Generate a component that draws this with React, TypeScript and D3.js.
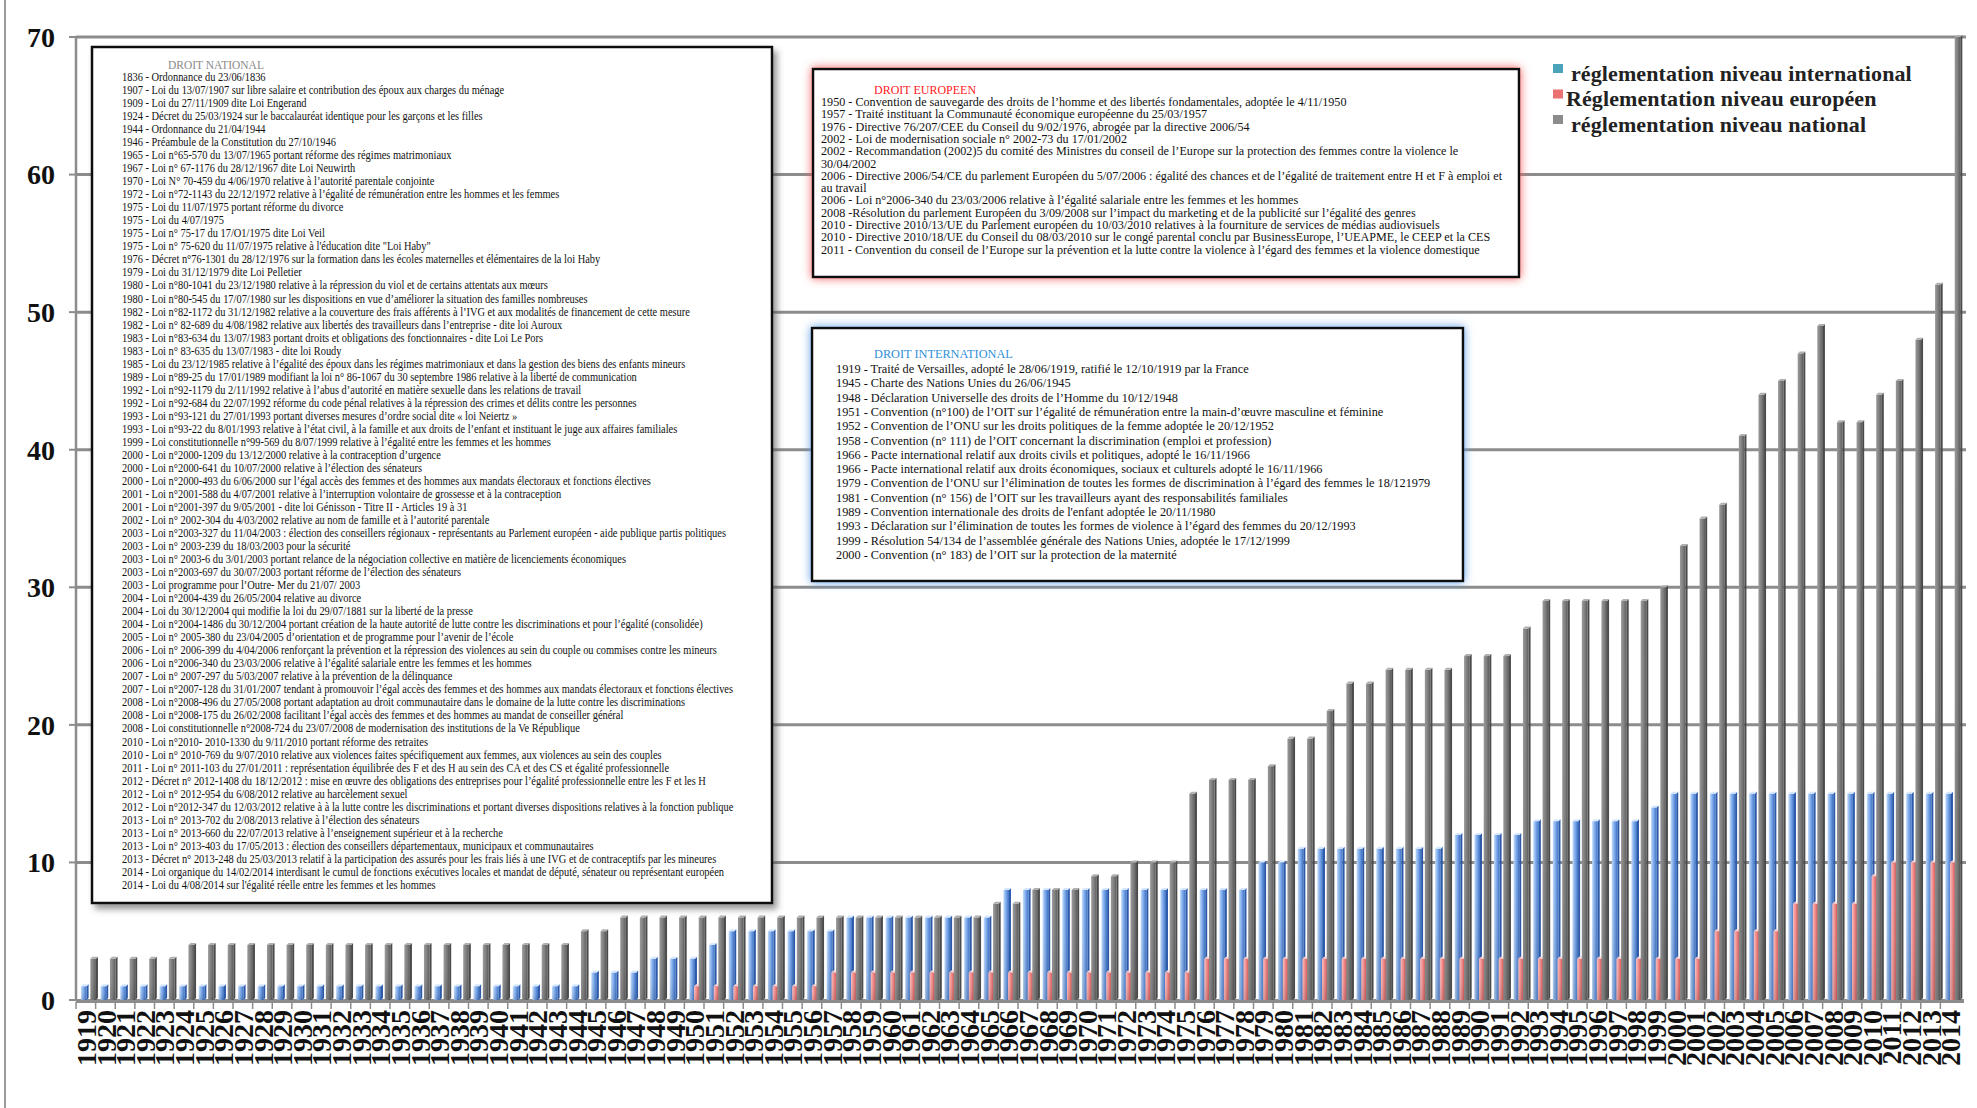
import { useEffect, useRef } from "react";
import * as d3 from "d3";

// categories
const years = d3.range(1919, 2015).map(String);
const seriesKeys = ["international", "europeen", "national"];
const seriesLabels = [
  "réglementation niveau international",
  "Réglementation niveau européen",
  "réglementation niveau national",
];
const yTicks = [0, 10, 20, 30, 40, 50, 60, 70];

// cumulative counts per year, 1919 -> 2014
const international = [
  1, 1, 1, 1, 1, 1, 1, 1, 1, 1, 1, 1, 1, 1, 1, 1, 1, 1, 1, 1, 1, 1, 1, 1, 1, 1, // 1919-1944
  2, 2, 2, 3, 3, 3, 4, 5, 5, 5, 5, 5, 5, // 1945-1957
  6, 6, 6, 6, 6, 6, 6, 6, // 1958-1965
  8, 8, 8, 8, 8, 8, 8, 8, 8, 8, 8, 8, 8, // 1966-1978
  10, 10, 11, 11, 11, 11, 11, 11, 11, 11, // 1979-1988
  12, 12, 12, 12, 13, 13, 13, 13, 13, 13, 14, // 1989-1999
  15, 15, 15, 15, 15, 15, 15, 15, 15, 15, 15, 15, 15, 15, 15, // 2000-2014
];
const europeen = [
  0, 0, 0, 0, 0, 0, 0, 0, 0, 0, 0, 0, 0, 0, 0, 0, 0, 0, 0, 0, 0, 0, 0, 0, 0, 0, 0, 0, 0, 0, 0, // 1919-1949
  1, 1, 1, 1, 1, 1, 1, // 1950-1956
  2, 2, 2, 2, 2, 2, 2, 2, 2, 2, 2, 2, 2, 2, 2, 2, 2, 2, 2, // 1957-1975
  3, 3, 3, 3, 3, 3, 3, 3, 3, 3, 3, 3, 3, 3, 3, 3, 3, 3, 3, 3, 3, 3, 3, 3, 3, 3, // 1976-2001
  5, 5, 5, 5, 7, 7, 7, 7, 9, 10, 10, 10, 10, // 2002-2014
];
const national = [
  3, 3, 3, 3, 3, // 1919-1923
  4, 4, 4, 4, 4, 4, 4, 4, 4, 4, 4, 4, 4, 4, 4, 4, 4, 4, 4, 4, // 1924-1943
  5, 5, // 1944-1945
  6, 6, 6, 6, 6, 6, 6, 6, 6, 6, 6, 6, 6, 6, 6, 6, 6, 6, 6, // 1946-1964
  7, 7, 8, 8, 8, 9, 9, 10, 10, 10, // 1965-1974
  15, 16, 16, 16, 17, 19, 19, 21, 23, 23, 24, 24, 24, 24, 25, 25, 25, 27, // 1975-1992
  29, 29, 29, 29, 29, 29, 30, 33, 35, 36, 41, 44, 45, 47, 49, 42, 42, 44, 45, 48, 52, 70, // 1993-2014
];

const droitNational = [
  "1836 - Ordonnance du 23/06/1836",
  "1907 - Loi du 13/07/1907 sur libre salaire et contribution des époux aux charges du ménage",
  "1909 - Loi du 27/11/1909 dite Loi Engerand",
  "1924 - Décret du 25/03/1924 sur le baccalauréat identique pour les garçons et les filles",
  "1944 - Ordonnance du 21/04/1944",
  "1946 - Préambule de la Constitution du 27/10/1946",
  "1965 - Loi n°65-570 du 13/07/1965 portant réforme des régimes matrimoniaux",
  "1967 - Loi n° 67-1176 du 28/12/1967 dite Loi Neuwirth",
  "1970 - Loi N° 70-459 du 4/06/1970 relative à l’autorité parentale conjointe",
  "1972 - Loi n°72-1143 du 22/12/1972 relative à l’égalité de rémunération entre les hommes et les femmes",
  "1975 - Loi du 11/07/1975 portant réforme du divorce",
  "1975 - Loi du 4/07/1975",
  "1975 - Loi n° 75-17 du 17/O1/1975 dite Loi Veil",
  "1975 - Loi n° 75-620 du 11/07/1975 relative à l'éducation dite \"Loi Haby\"",
  "1976 - Décret n°76-1301 du 28/12/1976 sur la formation dans les écoles maternelles et élémentaires de la loi Haby",
  "1979 - Loi du 31/12/1979 dite Loi Pelletier",
  "1980 - Loi n°80-1041 du 23/12/1980 relative à la répression du viol et de certains attentats aux mœurs",
  "1980 - Loi n°80-545 du 17/07/1980 sur les dispositions en vue d’améliorer la situation des familles nombreuses",
  "1982 - Loi n°82-1172 du 31/12/1982 relative a la couverture des frais afférents à l’IVG et aux modalités de financement de cette mesure",
  "1982 - Loi n° 82-689 du 4/08/1982 relative aux libertés des travailleurs dans l’entreprise - dite loi Auroux",
  "1983 - Loi n°83-634 du 13/07/1983 portant droits et obligations des fonctionnaires - dite Loi Le Pors",
  "1983 - Loi n° 83-635 du 13/07/1983 - dite loi Roudy",
  "1985 - Loi du 23/12/1985 relative à l’égalité des époux dans les régimes matrimoniaux et dans la gestion des biens des enfants mineurs",
  "1989 - Loi n°89-25 du 17/01/1989 modifiant la loi n° 86-1067 du 30 septembre 1986 relative à la liberté de communication",
  "1992 - Loi n°92-1179 du 2/11/1992 relative à l’abus d’autorité en matière sexuelle dans les relations de travail",
  "1992 - Loi n°92-684 du 22/07/1992 réforme du code pénal relatives à la répression des crimes et délits contre les personnes",
  "1993 - Loi n°93-121 du 27/01/1993 portant diverses mesures d’ordre social dite « loi Neiertz »",
  "1993 - Loi n°93-22 du 8/01/1993 relative à l’état civil, à la famille et aux droits de l’enfant et instituant le juge aux affaires familiales",
  "1999 - Loi constitutionnelle n°99-569 du 8/07/1999 relative à l’égalité entre les femmes et les hommes",
  "2000 - Loi n°2000-1209 du 13/12/2000 relative à la contraception d’urgence",
  "2000 - Loi n°2000-641 du 10/07/2000 relative à l’élection des sénateurs",
  "2000 - Loi n°2000-493 du 6/06/2000 sur l’égal accès des femmes et des hommes aux mandats électoraux et fonctions électives",
  "2001 - Loi n°2001-588 du 4/07/2001 relative à l’interruption volontaire de grossesse et à la contraception",
  "2001 - Loi n°2001-397 du 9/05/2001 - dite loi Génisson - Titre II - Articles 19 à 31",
  "2002 - Loi n° 2002-304 du 4/03/2002 relative au nom de famille et à l’autorité parentale",
  "2003 - Loi n°2003-327 du 11/04/2003 : élection des conseillers régionaux - représentants au Parlement européen - aide publique partis politiques",
  "2003 - Loi n° 2003-239 du 18/03/2003 pour la sécurité",
  "2003 - Loi n° 2003-6 du 3/01/2003 portant relance de la négociation collective en matière de licenciements économiques",
  "2003 - Loi n°2003-697 du 30/07/2003 portant réforme de l’élection des sénateurs",
  "2003 - Loi programme pour l’Outre- Mer du 21/07/ 2003",
  "2004 - Loi n°2004-439 du 26/05/2004 relative au divorce",
  "2004 - Loi du 30/12/2004 qui modifie la loi du 29/07/1881 sur la liberté de la presse",
  "2004 - Loi n°2004-1486 du 30/12/2004 portant création de la haute autorité de lutte contre les discriminations et pour l’égalité (consolidée)",
  "2005 - Loi n° 2005-380 du 23/04/2005 d’orientation et de programme pour l’avenir de l’école",
  "2006 - Loi n° 2006-399 du 4/04/2006 renforçant la prévention et la répression des violences au sein du couple ou commises contre les mineurs",
  "2006 - Loi n°2006-340 du 23/03/2006 relative à l’égalité salariale entre les femmes et les hommes",
  "2007 - Loi n° 2007-297 du 5/03/2007 relative à la prévention de la délinquance",
  "2007 - Loi n°2007-128 du 31/01/2007 tendant à promouvoir l’égal accès des femmes et des hommes aux mandats électoraux et fonctions électives",
  "2008 - Loi n°2008-496 du 27/05/2008 portant adaptation au droit communautaire dans le domaine de la lutte contre les discriminations",
  "2008 - Loi n°2008-175 du 26/02/2008 facilitant l’égal accès des femmes et des hommes au mandat de conseiller général",
  "2008 - Loi constitutionnelle n°2008-724 du 23/07/2008 de modernisation des institutions de la Ve République",
  "2010 - Loi n°2010- 2010-1330 du 9/11/2010 portant réforme des retraites",
  "2010 - Loi n° 2010-769 du 9/07/2010 relative aux violences faites spécifiquement aux femmes, aux violences au sein des couples",
  "2011 - Loi n° 2011-103 du 27/01/2011 : représentation équilibrée des F et des H au sein des CA et des CS et égalité professionnelle",
  "2012 - Décret n° 2012-1408 du 18/12/2012 : mise en œuvre des obligations des entreprises pour l’égalité professionnelle entre les F et les H",
  "2012 - Loi n° 2012-954 du 6/08/2012 relative au harcèlement sexuel",
  "2012 - Loi n°2012-347 du 12/03/2012 relative à à la lutte contre les discriminations et portant diverses dispositions relatives à la fonction publique",
  "2013 - Loi n° 2013-702 du 2/08/2013 relative à l’élection des sénateurs",
  "2013 - Loi n° 2013-660 du 22/07/2013 relative à l’enseignement supérieur et à la recherche",
  "2013 - Loi n° 2013-403 du 17/05/2013 : élection des conseillers départementaux, municipaux et communautaires",
  "2013 - Décret n° 2013-248 du 25/03/2013 relatif à la participation des assurés pour les frais liés à une IVG et de contraceptifs par les mineures",
  "2014 - Loi organique du 14/02/2014 interdisant le cumul de fonctions exécutives locales et mandat de député, sénateur ou représentant européen",
  "2014 - Loi du 4/08/2014 sur l'égalité réelle entre les femmes et les hommes",
];

const droitEuropeen = [
  "1950 - Convention de sauvegarde des droits de l’homme et des libertés fondamentales, adoptée le 4/11/1950",
  "1957 - Traité instituant la Communauté économique européenne du 25/03/1957",
  "1976 - Directive 76/207/CEE du Conseil du 9/02/1976, abrogée par la directive 2006/54",
  "2002 - Loi de modernisation sociale n° 2002-73 du 17/01/2002",
  "2002 - Recommandation (2002)5 du comité des Ministres du conseil de l’Europe sur la protection des femmes contre la violence le",
  "30/04/2002",
  "2006 - Directive 2006/54/CE du parlement Européen du 5/07/2006 : égalité des chances et de l’égalité de traitement entre H et F à emploi et",
  "au travail",
  "2006 - Loi n°2006-340 du 23/03/2006 relative à l’égalité salariale entre les femmes et les hommes",
  "2008 -Résolution du parlement Européen du 3/09/2008 sur l’impact du marketing et de la publicité sur l’égalité des genres",
  "2010 - Directive 2010/13/UE du Parlement européen du 10/03/2010 relatives à la fourniture de services de médias audiovisuels",
  "2010 - Directive 2010/18/UE du Conseil du 08/03/2010 sur le congé parental conclu par BusinessEurope, l’UEAPME, le CEEP et la CES",
  "2011 - Convention du conseil de l’Europe sur la prévention et la lutte contre la violence à l’égard des femmes et la violence domestique",
];

const droitInternational = [
  "1919 - Traité de Versailles, adopté le 28/06/1919, ratifié le 12/10/1919 par la France",
  "1945 - Charte des Nations Unies du 26/06/1945",
  "1948 - Déclaration Universelle des droits de l’Homme du 10/12/1948",
  "1951 - Convention (n°100) de l’OIT sur l’égalité de rémunération entre la main-d’œuvre masculine et féminine",
  "1952 - Convention de l’ONU sur les droits politiques de la femme adoptée le 20/12/1952",
  "1958 - Convention (n° 111) de l’OIT concernant la discrimination (emploi et profession)",
  "1966 - Pacte international relatif aux droits civils et politiques, adopté le 16/11/1966",
  "1966 - Pacte international relatif aux droits économiques, sociaux et culturels adopté le 16/11/1966",
  "1979 - Convention de l’ONU sur l’élimination de toutes les formes de discrimination à l’égard des femmes le 18/121979",
  "1981 - Convention (n° 156) de l’OIT sur les travailleurs ayant des responsabilités familiales",
  "1989 - Convention internationale des droits de l'enfant adoptée le 20/11/1980",
  "1993 - Déclaration sur l’élimination de toutes les formes de violence à l’égard des femmes du 20/12/1993",
  "1999 - Résolution 54/134 de l’assemblée générale des Nations Unies, adoptée le 17/12/1999",
  "2000 - Convention (n° 183) de l’OIT sur la protection de la maternité",
];

const SERIF = "'Liberation Serif', 'Times New Roman', serif";

export default function App() {
  const ref = useRef<SVGSVGElement>(null);

  useEffect(() => {
    if (!ref.current) return;
    const svg = d3.select(ref.current);
    svg.selectAll("*").remove();
    const W = 1977;
    const H = 1108;

    const rows = years.map((yr, i) => ({
      year: yr,
      international: international[i],
      europeen: europeen[i],
      national: national[i],
    }));

    const x = d3.scaleBand().domain(years).range([76, 1960]).padding(0);
    const x1 = d3.scaleBand().domain(seriesKeys).range([5, 19]);
    const y = d3.scaleLinear().domain([0, 70]).range([1000, 37]);

    const defs = svg.append("defs");
    const grad = (id: string, stops: [number, string][]) => {
      const g = defs.append("linearGradient").attr("id", id).attr("x1", 0).attr("x2", 1).attr("y1", 0).attr("y2", 0);
      stops.forEach(([o, c]) => g.append("stop").attr("offset", o).attr("stop-color", c));
    };
    grad("g-international", [[0, "#c2dcfc"], [0.45, "#80acec"], [1, "#3a6fc4"]]);
    grad("g-europeen", [[0, "#fbc0c0"], [0.45, "#f08a8a"], [1, "#cf4848"]]);
    grad("g-national", [[0, "#9a9a9a"], [0.5, "#808080"], [1, "#5a5a5a"]]);
    const shade = defs.append("linearGradient").attr("id", "g-shade").attr("x1", 0).attr("x2", 0).attr("y1", 0).attr("y2", 1);
    shade.append("stop").attr("offset", 0).attr("stop-color", "#fff").attr("stop-opacity", 0);
    shade.append("stop").attr("offset", 1).attr("stop-color", "#000").attr("stop-opacity", 0.12);

    const glow = (id: string, color: string, dx: number, dy: number, sd: number, op: number) => {
      const f = defs.append("filter").attr("id", id).attr("x", "-10%").attr("y", "-10%").attr("width", "120%").attr("height", "120%");
      f.append("feDropShadow").attr("dx", dx).attr("dy", dy).attr("stdDeviation", sd)
        .attr("flood-color", color).attr("flood-opacity", op);
    };
    glow("f-shadow", "#555", 4, 5, 3, 0.6);
    glow("f-red", "#f25c5c", 0, 0, 5, 1);
    glow("f-blue", "#5c9ce4", 0, 0, 5, 1);

    svg.append("rect").attr("width", W).attr("height", H).attr("fill", "#fff");

    // frame
    svg.append("line").attr("x1", 5).attr("x2", 5).attr("y1", 0).attr("y2", H)
      .attr("stroke", "#9a9a9a").attr("stroke-width", 2);

    // gridlines
    svg.append("g").selectAll("line").data(yTicks.filter((t) => t > 0)).join("line")
      .attr("x1", 76).attr("x2", 1966).attr("y1", (d) => y(d)).attr("y2", (d) => y(d))
      .attr("stroke", "#8c8c8c").attr("stroke-width", 3);

    // y axis
    svg.append("line").attr("x1", 76).attr("x2", 76).attr("y1", y(70)).attr("y2", y(0))
      .attr("stroke", "#8c8c8c").attr("stroke-width", 2.5);
    svg.append("g").selectAll("line").data(yTicks).join("line")
      .attr("x1", 69).attr("x2", 76).attr("y1", (d) => y(d)).attr("y2", (d) => y(d))
      .attr("stroke", "#8c8c8c").attr("stroke-width", 2);
    svg.append("g").selectAll("text").data(yTicks).join("text")
      .attr("x", 55).attr("y", (d) => y(d)).attr("dy", "0.35em")
      .attr("text-anchor", "end").attr("font-family", SERIF).attr("font-weight", "bold")
      .attr("font-size", 28).attr("fill", "#111").text((d) => d);

    // floor
    svg.append("line").attr("x1", 76).attr("x2", 1964).attr("y1", y(0) + 1).attr("y2", y(0) + 1)
      .attr("stroke", "#8c8c8c").attr("stroke-width", 4);
    svg.append("g").selectAll("line").data(years).join("line")
      .attr("x1", (d) => x(d)!).attr("x2", (d) => x(d)!)
      .attr("y1", y(0) + 2).attr("y2", y(0) + 9)
      .attr("stroke", "#8c8c8c").attr("stroke-width", 1.5);

    // bars with a little depth
    const bw = x1.bandwidth() * 1.2;
    const d = 2;
    const groups = svg.append("g").selectAll("g").data(rows).join("g")
      .attr("transform", (r) => `translate(${x(r.year)},0)`);
    seriesKeys.forEach((k) => {
      const top = k === "international" ? "#d6e7fd" : k === "europeen" ? "#fcd2d2" : "#b0b0b0";
      const side = k === "international" ? "#2c5aa8" : k === "europeen" ? "#b83636" : "#4a4a4a";
      const sel = groups.filter((r: any) => r[k] > 0);
      sel.append("polygon")
        .attr("points", (r: any) => {
          const x0 = x1(k)! + bw, yt = y(r[k]), yb = y(0);
          return `${x0},${yt} ${x0 + d},${yt - d} ${x0 + d},${yb - d} ${x0},${yb}`;
        })
        .attr("fill", side);
      sel.append("rect")
        .attr("x", x1(k)!).attr("width", bw)
        .attr("y", (r: any) => y(r[k])).attr("height", (r: any) => y(0) - y(r[k]))
        .attr("fill", `url(#g-${k})`);
      sel.append("rect")
        .attr("x", x1(k)!).attr("width", bw)
        .attr("y", (r: any) => y(r[k])).attr("height", (r: any) => y(0) - y(r[k]))
        .attr("fill", "url(#g-shade)");
      sel.append("polygon")
        .attr("points", (r: any) => {
          const x0 = x1(k)!, yt = y(r[k]);
          return `${x0},${yt} ${x0 + d},${yt - d} ${x0 + bw + d},${yt - d} ${x0 + bw},${yt}`;
        })
        .attr("fill", top);
    });

    // x labels
    svg.append("g").selectAll("text").data(years).join("text")
      .attr("transform", (yr) => `translate(${x(yr)! + x.bandwidth() / 2},${1010}) rotate(-90)`)
      .attr("dy", "0.36em").attr("text-anchor", "end")
      .attr("font-family", SERIF).attr("font-weight", "bold").attr("font-size", 28).attr("fill", "#111")
      .text((yr) => yr);

    // text boxes
    const box = (bx: number, by: number, bw2: number, bh: number, filter: string) =>
      svg.append("rect").attr("x", bx).attr("y", by).attr("width", bw2).attr("height", bh)
        .attr("fill", "#fff").attr("stroke", "#111").attr("stroke-width", 2.5).attr("filter", `url(#${filter})`);

    box(92, 47, 680, 856, "f-shadow");
    svg.append("text").attr("x", 168).attr("y", 69).attr("font-family", SERIF).attr("font-size", 11.5)
      .attr("fill", "#8a8a8a").text("DROIT NATIONAL");
    svg.append("g").attr("transform", "translate(122,0) scale(0.9,1)")
      .selectAll("text").data(droitNational).join("text")
      .attr("x", 0).attr("y", (_, i) => 81 + i * 13.03)
      .attr("font-family", SERIF).attr("font-size", 11.6).attr("fill", "#111").text((t) => t);

    box(813, 69, 706, 208, "f-red");
    svg.append("text").attr("x", 874).attr("y", 94).attr("font-family", SERIF).attr("font-size", 12)
      .attr("fill", "#ff1a1a").text("DROIT EUROPEEN");
    svg.append("g").selectAll("text").data(droitEuropeen).join("text")
      .attr("x", 821).attr("y", (_, i) => 106 + i * 12.3)
      .attr("font-family", SERIF).attr("font-size", 12.15).attr("fill", "#111").text((t) => t);

    box(812, 328, 651, 253, "f-blue");
    svg.append("text").attr("x", 874).attr("y", 358).attr("font-family", SERIF).attr("font-size", 12.3)
      .attr("fill", "#2f8fd8").text("DROIT INTERNATIONAL");
    svg.append("g").selectAll("text").data(droitInternational).join("text")
      .attr("x", 836).attr("y", (_, i) => 373 + i * 14.3)
      .attr("font-family", SERIF).attr("font-size", 12.3).attr("fill", "#111").text((t) => t);

    // legend
    const legendColors = ["#4aa3b8", "#ea7272", "#8c8c8c"];
    const lg = svg.append("g").selectAll("g").data(seriesLabels).join("g")
      .attr("transform", (_, i) => `translate(1553,${73 + i * 25.5})`);
    lg.append("rect").attr("x", 0).attr("y", -9).attr("width", 10).attr("height", 9)
      .attr("fill", (_, i) => legendColors[i]);
    lg.append("text").attr("x", (_, i) => (i === 1 ? 13 : 18)).attr("dy", "0.35em")
      .attr("font-family", SERIF).attr("font-weight", "bold").attr("font-size", 22).attr("fill", "#222")
      .attr("letter-spacing", 0.1)
      .text((t) => t);
  }, []);

  return (
    <svg
      ref={ref}
      width={1977}
      height={1108}
      style={{ position: "absolute", left: 0, top: 0, display: "block" }}
    />
  );
}
